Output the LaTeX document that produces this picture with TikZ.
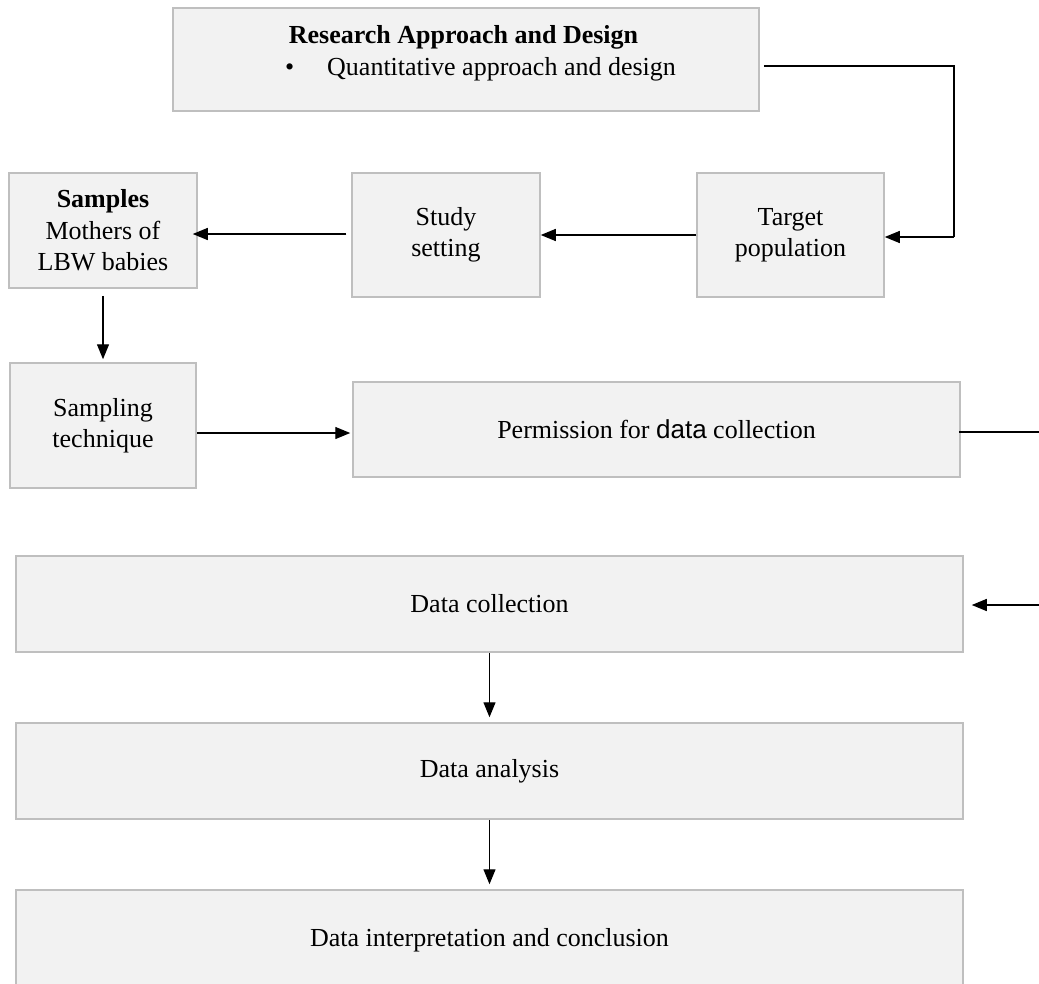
\documentclass[tikz,border=0pt]{standalone}
\usepackage{fontspec}
\setmainfont{Liberation Serif}
\newfontfamily\arialfont{Liberation Sans}
\usetikzlibrary{arrows.meta}
\definecolor{boxfill}{HTML}{F2F2F2}
\definecolor{boxline}{HTML}{BFBFBF}
\tikzset{
  box/.style={draw=boxline, fill=boxfill, line width=1.5pt, inner sep=0pt, align=center,
    font=\fontsize{26}{31.5}\selectfont},
  txt/.style={inner sep=0pt, font=\fontsize{26}{31.5}\selectfont},
  conn/.style={draw=black, line width=1.3pt},
  arr/.style={conn, -{Triangle[length=15pt,width=12pt]}}
}
\begin{document}
\begin{tikzpicture}[x=1pt,y=-1pt]
\clip (0,0) rectangle (1039,983);
\fill[white] (0,0) rectangle (1039,983);
% boxes
\node[box, minimum width=586pt, minimum height=103pt] (rad) at (466,59.5) {};
\node[txt, anchor=base] (radh) at (463.5,43) {\textbf{Research Approach and Design}};
\node[txt, anchor=base west] (radb) at (285,75) {\textbullet};
\node[txt, anchor=base west] (radq) at (327,75) {Quantitative approach and design};

\node[box, minimum width=188pt, minimum height=115pt] (samples) at (103,230.5) {\textbf{Samples}\\Mothers of\\LBW babies};
\node[box, minimum width=188pt, minimum height=124pt] (study) at (446,235) {Study\\setting};
\node[box, minimum width=187pt, minimum height=124pt] (target) at (790.5,235) {Target\\population};

\node[box, minimum width=186pt, minimum height=125pt] (sampling) at (103,425.5) {Sampling\\technique};
\node[box, minimum width=607pt, minimum height=95pt] (perm) at (656.5,429.5) {Permission for {\arialfont data} collection};

\node[box, minimum width=947pt, minimum height=96pt] (dc) at (489.5,604) {Data collection};
\node[box, minimum width=947pt, minimum height=96pt] (da) at (489.5,771) {Data analysis};
\node[box, minimum width=947pt, minimum height=100pt] (di) at (489.5,940) {Data interpretation and conclusion};

% coordinates
\coordinate (c1) at (954,66);
\coordinate (c2) at (954,237);
\coordinate (ys) at (0,234);
\coordinate (yp) at (0,433);
\coordinate (pr) at (1045,432);
\coordinate (dr) at (1045,605);

% connectors
\draw[conn] ([xshift=4pt]rad.east |- c1) -- (c1) -- (c2);
\draw[arr] (c2) -- (target.east |- c2);
\draw[arr] (target.west) -- (study.east);
\draw[arr] ([xshift=-5pt]study.west |- ys) -- ([xshift=-5pt]samples.east |- ys);
\draw[arr] ([yshift=-7pt]samples.south) -- ([yshift=3pt]sampling.north);
\draw[arr] (sampling.east |- yp) -- ([xshift=-2pt]perm.west |- yp);
\draw[conn] ([xshift=-2pt]perm.east |- pr) -- (pr);
\draw[arr] (dr) -- ([xshift=8pt]dc.east |- dr);
\draw[arr] (dc.south) -- ([yshift=5pt]da.north);
\draw[arr] (da.south) -- ([yshift=5pt]di.north);
\end{tikzpicture}
\end{document}
